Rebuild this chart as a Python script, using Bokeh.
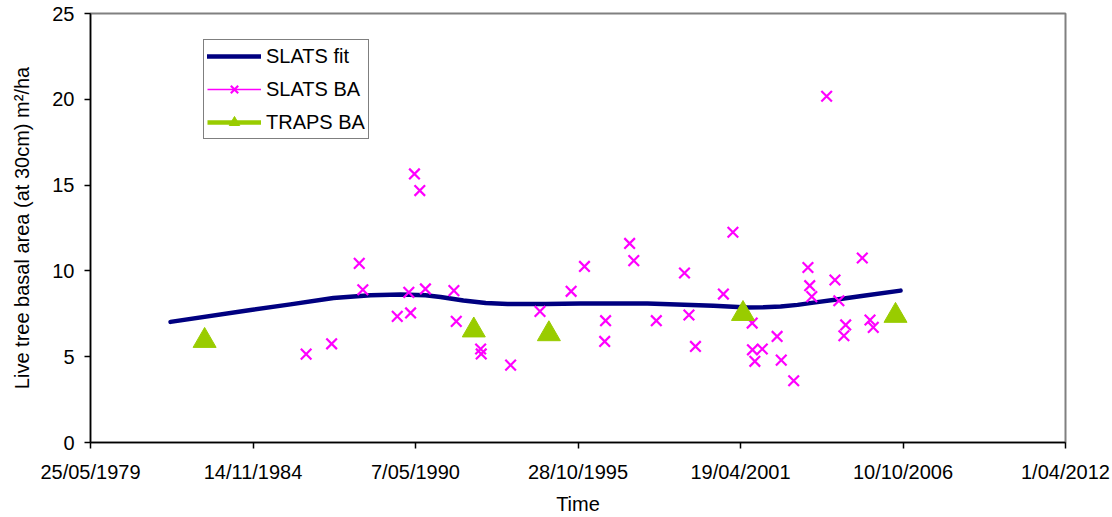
from datetime import date

from bokeh.embed import file_html
from bokeh.models import FixedTicker, Legend, LegendItem, ColumnDataSource
from bokeh.plotting import figure
from bokeh.resources import INLINE

# ---- data (time in decimal years, basal area in m2/ha) ----
fit_time = [1982.09, 1984.79, 1986.13, 1987.58, 1988.83, 1989.84, 1990.68,
            1991.19, 1991.96, 1992.71, 1993.45, 1994.73, 1995.91, 1998.16,
            2000.39, 2001.53, 2002.07, 2002.65, 2003.22, 2003.76, 2004.60,
            2005.44, 2006.69]
fit_ba = [7.03, 7.72, 8.05, 8.42, 8.58, 8.62, 8.58, 8.48, 8.27, 8.13, 8.07,
          8.07, 8.10, 8.10, 7.97, 7.87, 7.88, 7.92, 8.02, 8.15, 8.35, 8.55,
          8.85]

slats_time = [1986.66, 1987.52, 1988.45, 1988.57, 1989.73, 1990.12, 1990.18,
              1990.31, 1990.49, 1990.68, 1991.64, 1991.72, 1992.54, 1992.56,
              1993.55, 1994.54, 1995.59, 1996.04, 1996.72, 1996.75, 1997.56,
              1997.70, 1998.46, 1999.41, 1999.56, 1999.78, 2000.72, 2001.04,
              2001.69, 2001.70, 2001.78, 2002.03, 2002.53, 2002.67, 2003.09,
              2003.57, 2003.63, 2003.70, 2004.20, 2004.48, 2004.61, 2004.78,
              2004.84, 2005.40, 2005.66, 2005.77]
slats_ba = [5.15, 5.75, 10.44, 8.90, 7.35, 8.75, 7.55, 15.65, 14.68, 8.95,
            8.85, 7.06, 5.45, 5.16, 4.51, 7.64, 8.81, 10.26, 5.89, 7.10, 11.60,
            10.60, 7.10, 9.88, 7.43, 5.60, 8.65, 12.25, 6.96, 5.40, 4.73, 5.45,
            6.18, 4.80, 3.60, 10.20, 9.14, 8.50, 20.18, 9.47, 8.26, 6.22, 6.85,
            10.75, 7.14, 6.71]

traps_time = [1983.24, 1992.31, 1994.84, 2001.38, 2006.52]
traps_ba = [5.93, 6.54, 6.32, 7.50, 7.39]

# x axis ticks are spreadsheet date serials, every 2000 days
x_ticks = [29000, 31000, 33000, 35000, 37000, 39000, 41000]
x_tick_labels = ["25/05/1979", "14/11/1984", "7/05/1990", "28/10/1995",
                 "19/04/2001", "10/10/2006", "1/04/2012"]
y_ticks = [0, 5, 10, 15, 20, 25]

EPOCH = date(1899, 12, 30)


def to_serial(yr):
    y = int(yr)
    start = date(y, 1, 1)
    ndays = (date(y + 1, 1, 1) - start).days
    return (start - EPOCH).days + (yr - y) * ndays


fit_src = ColumnDataSource(dict(x=[to_serial(t) for t in fit_time], y=fit_ba))
slats_src = ColumnDataSource(dict(x=[to_serial(t) for t in slats_time], y=slats_ba))
traps_src = ColumnDataSource(dict(x=[to_serial(t) for t in traps_time], y=traps_ba))
# a single gap point: draws nothing on the plot, but gives the legend a line swatch
swatch = ColumnDataSource(dict(x=[float("nan")], y=[float("nan")]))

FONT = "Liberation Sans"
NAVY = "#000080"
MAGENTA = "#FF00FF"
GREEN = "#99CC00"

p = figure(width=1112, height=517, output_backend="svg", toolbar_location=None,
           x_range=(29000, 41000), y_range=(0, 25),
           min_border_left=90, min_border_right=47, min_border_top=13,
           min_border_bottom=75)
p.background_fill_color = "white"
p.border_fill_color = "white"
p.outline_line_color = "#808080"
p.outline_line_width = 2
p.xgrid.visible = False
p.ygrid.visible = False

for ax in (p.xaxis[0], p.yaxis[0]):
    ax.axis_line_color = "black"
    ax.axis_line_width = 1.5
    ax.major_tick_line_color = "black"
    ax.major_tick_line_width = 1.5
    ax.major_tick_out = 6
    ax.major_tick_in = 0
    ax.minor_tick_line_color = None
    ax.major_label_text_font = FONT
    ax.major_label_text_font_size = "20px"
    ax.major_label_text_color = "black"
    ax.axis_label_text_font = FONT
    ax.axis_label_text_font_size = "20px"
    ax.axis_label_text_font_style = "normal"
    ax.axis_label_text_color = "black"

p.xaxis.ticker = FixedTicker(ticks=x_ticks)
p.xaxis.major_label_overrides = {t: lab for t, lab in zip(x_ticks, x_tick_labels)}
p.xaxis.major_label_standoff = 12
p.xaxis.axis_label = "Time"
p.xaxis.axis_label_standoff = 7

p.yaxis.ticker = FixedTicker(ticks=y_ticks)
p.yaxis.major_label_standoff = 10
p.yaxis.axis_label = "Live tree basal area (at 30cm) m\u00b2/ha"
p.yaxis.axis_label_standoff = 16

# fitted trend
fit_r = p.line("x", "y", source=fit_src, line_color=NAVY, line_width=4.5,
               line_join="round", line_cap="round")

# SLATS plot measurements
slats_r = p.scatter("x", "y", source=slats_src, marker="x", size=15,
                    line_color=MAGENTA, line_width=2.2)
slats_leg_line = p.line("x", "y", source=swatch, line_color=MAGENTA, line_width=1.5)

# TRAPS plot measurements
traps_r = p.scatter("x", "y", source=traps_src, marker="triangle", size=23,
                    fill_color=GREEN, line_color=GREEN, line_width=1)
traps_leg_line = p.line("x", "y", source=swatch, line_color=GREEN, line_width=4.5)

legend = Legend(items=[
    LegendItem(label="SLATS fit", renderers=[fit_r]),
    LegendItem(label="SLATS BA", renderers=[slats_leg_line, slats_r]),
    LegendItem(label="TRAPS BA", renderers=[traps_leg_line, traps_r]),
], location=(113, 303))
legend.label_text_font = FONT
legend.label_text_font_size = "20px"
legend.label_text_color = "black"
legend.glyph_width = 54
legend.glyph_height = 26
legend.label_height = 26
legend.label_standoff = 5
legend.spacing = 7
legend.padding = 3
legend.margin = 0
legend.border_line_color = "black"
legend.border_line_width = 1
legend.background_fill_color = "white"
legend.background_fill_alpha = 1
p.add_layout(legend, "center")

open("out.html", "w").write(file_html(p, INLINE))
